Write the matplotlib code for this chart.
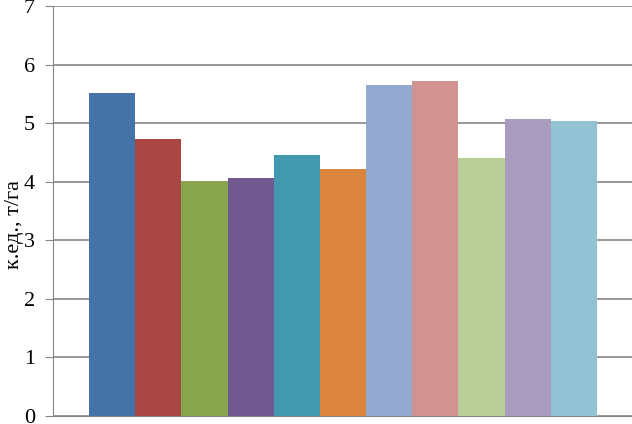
import matplotlib
matplotlib.use("Agg")
import matplotlib.pyplot as plt

valores = [5.51, 4.73, 4.01, 4.06, 4.46, 4.22, 5.65, 5.72, 4.41, 5.07, 5.04]
cores = ["#4572A7", "#AA4643", "#89A54E", "#71588F", "#4198AF", "#DB843D",
         "#93A9CF", "#D19392", "#B9CD96", "#A99BBD", "#92C3D4"]
rotulo_y = "к.ед., т/га"

plt.rcParams["font.family"] = ["Liberation Serif", "DejaVu Serif"]

fig = plt.figure(figsize=(6.32, 4.24), dpi=100)
ax = fig.add_axes([53 / 632, 1 - 416 / 424, 580 / 632, 410 / 424])

posicoes = list(range(len(valores)))
ax.bar(posicoes, valores, width=1.0, color=cores, zorder=3)

ax.set_xlim(-1.28, 11.28)
ax.set_ylim(0, 7)
ax.set_yticks(range(0, 8))
ax.set_xticks([])
ax.grid(axis="y", color="#868686", linewidth=1.2, zorder=0)

for lado in ["top", "right"]:
    ax.spines[lado].set_visible(False)
ax.spines["left"].set_color("#868686")
ax.spines["bottom"].set_color("#868686")
ax.tick_params(axis="y", direction="out", length=6, color="#868686",
               labelsize=16, pad=7)

ax.set_ylabel(rotulo_y, fontsize=16)
ax.yaxis.set_label_coords(-0.05, 0.466)

fig.savefig("out.png", dpi=100)
